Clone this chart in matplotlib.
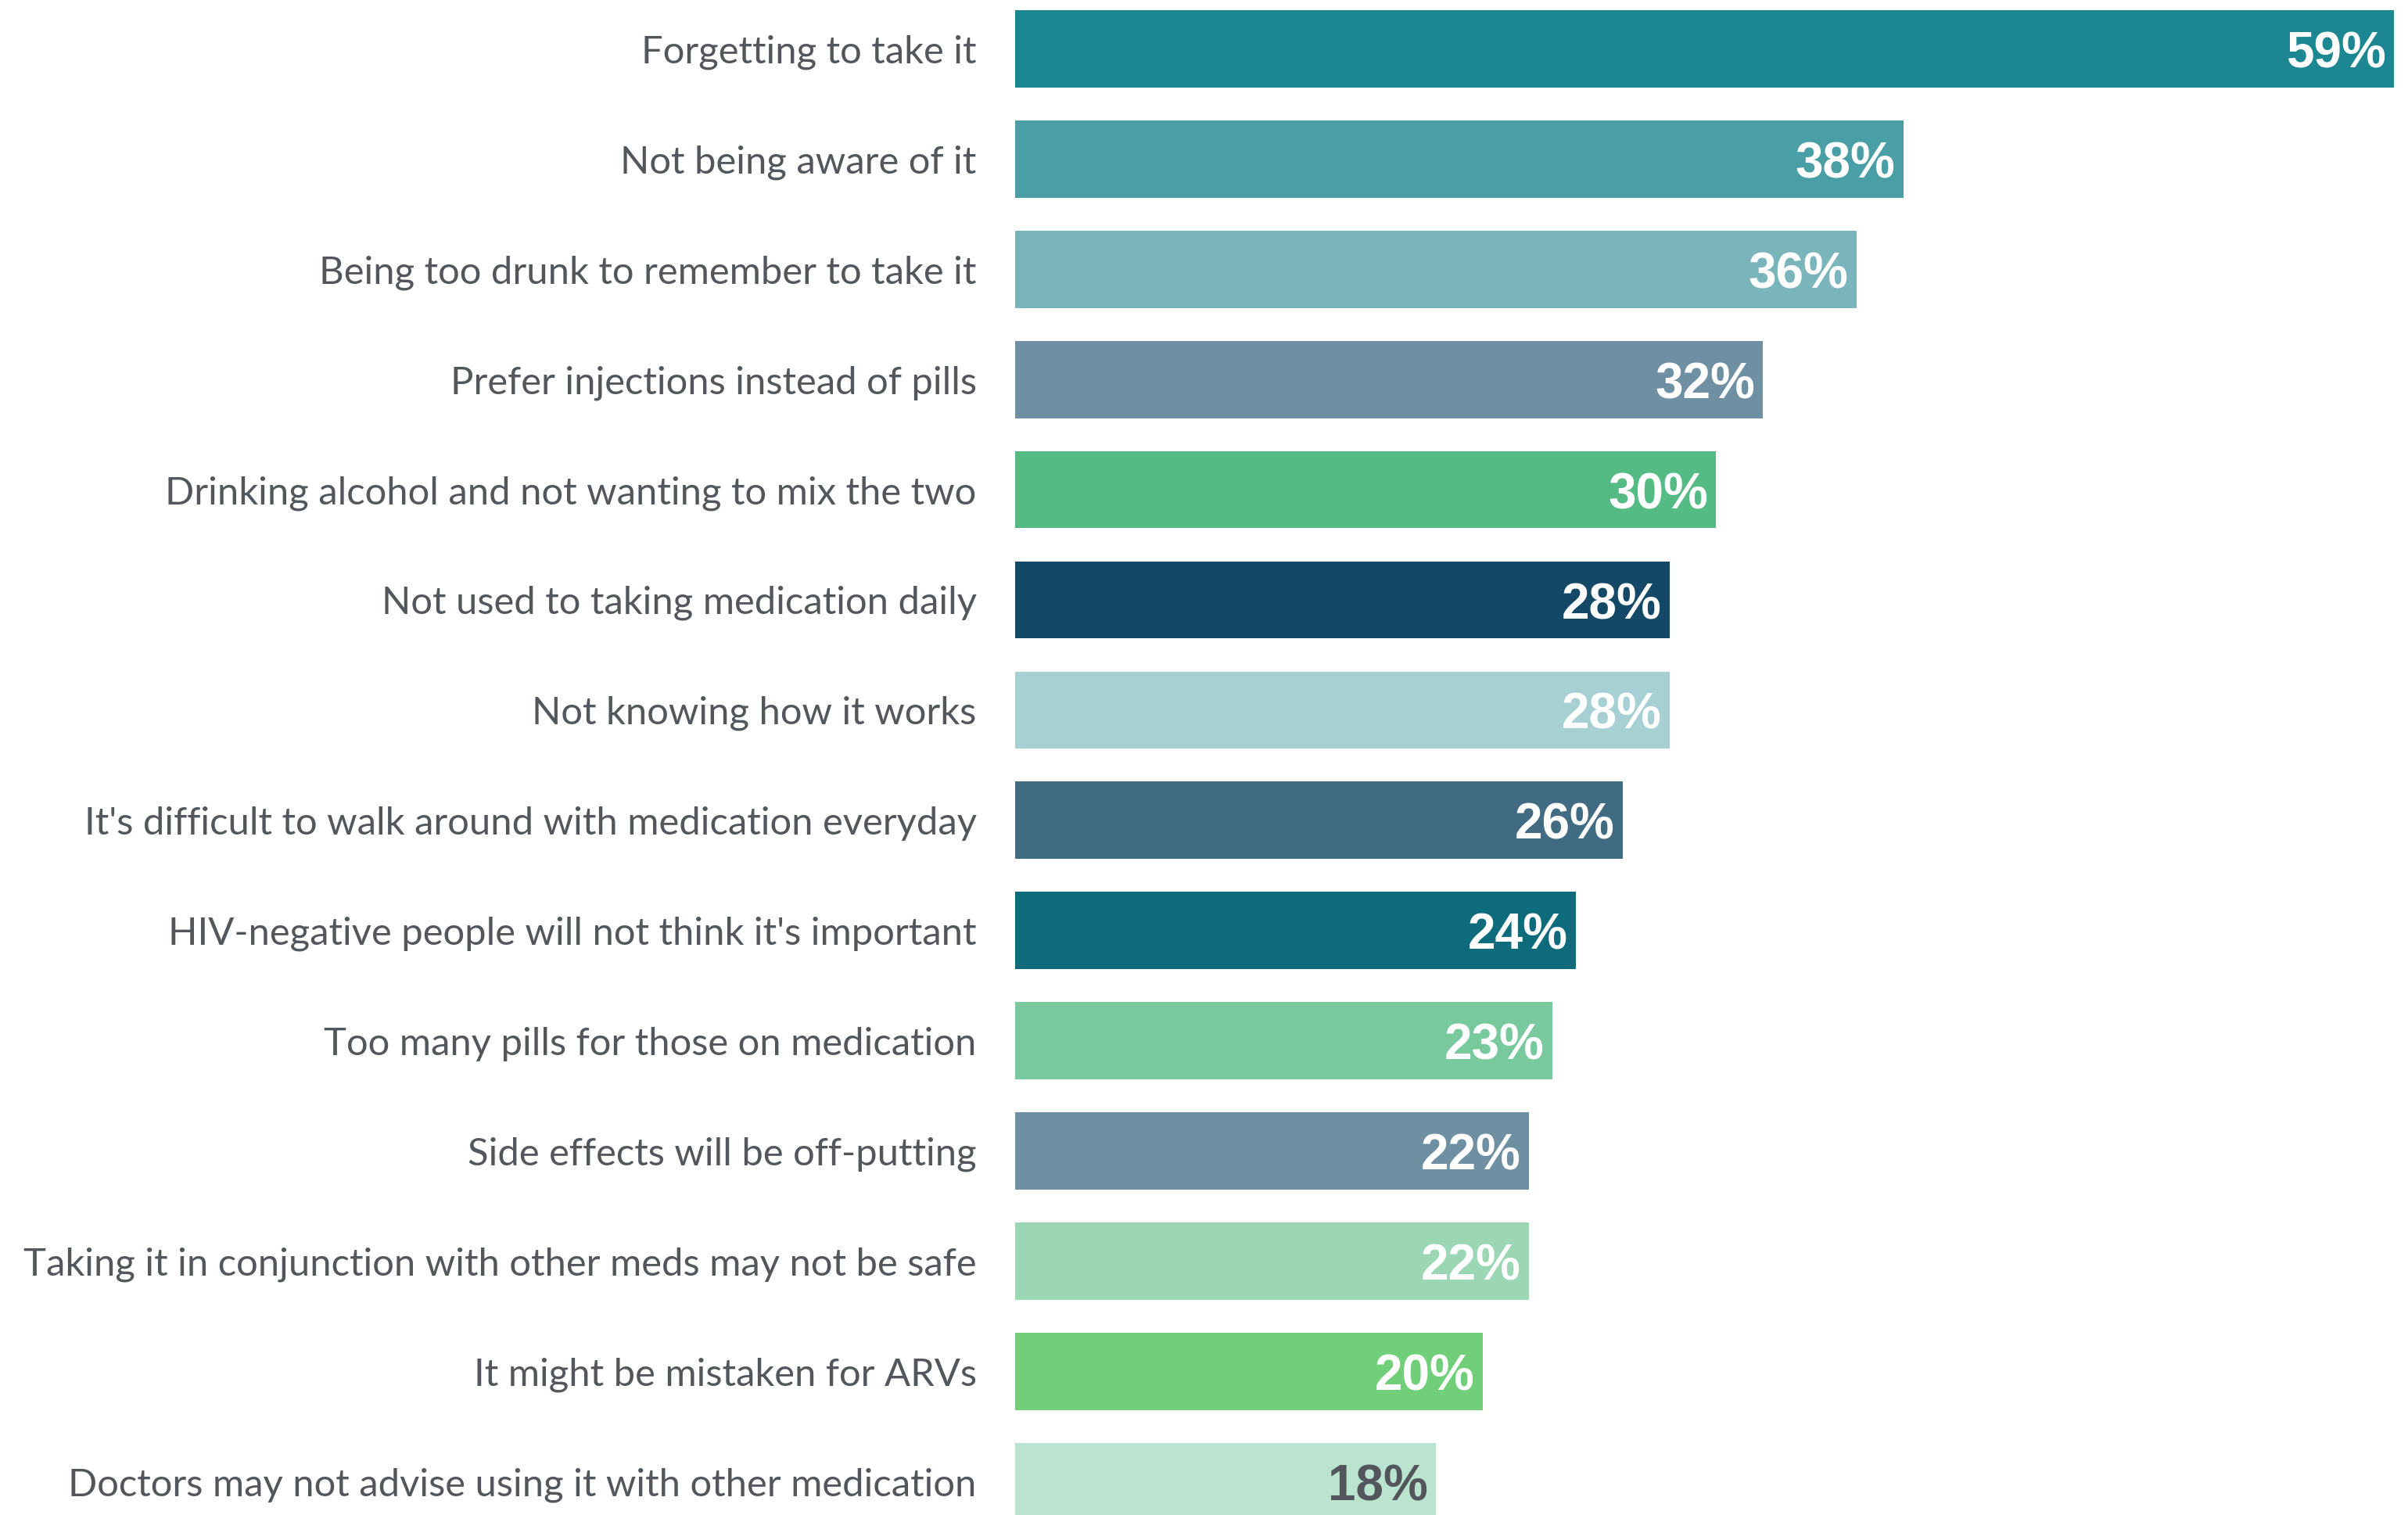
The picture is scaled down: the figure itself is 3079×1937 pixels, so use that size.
import numpy as np
import matplotlib
matplotlib.use("Agg")
import matplotlib.pyplot as plt

# reasons for not taking PrEP, share of respondents (%)
reasons = [
    "Forgetting to take it",
    "Not being aware of it",
    "Being too drunk to remember to take it",
    "Prefer injections instead of pills",
    "Drinking alcohol and not wanting to mix the two",
    "Not used to taking medication daily",
    "Not knowing how it works",
    "It's difficult to walk around with medication everyday",
    "HIV-negative people will not think it's important",
    "Too many pills for those on medication",
    "Side effects will be off-putting",
    "Taking it in conjunction with other meds may not be safe",
    "It might be mistaken for ARVs",
    "Doctors may not advise using it with other medication",
]
pct = [59, 38, 36, 32, 30, 28, 28, 26, 24, 23, 22, 22, 20, 18]

bar_colors = ["#1c8790", "#4a9fa6", "#7ab5bc", "#6f90a3", "#55bb84", "#134866",
              "#a7d0d4", "#416a83", "#0e6b7b", "#78c99d", "#6f90a3", "#9bd6b5",
              "#72cf79", "#bae4cf"]
value_colors = ["white"] * 13 + ["#53575c"]

W, H = 3079, 1937
fig = plt.figure(figsize=(W / 100, H / 100), dpi=100)
ax = fig.add_axes([1298 / W, 0, 1 - 1298 / W, 1])

y = np.arange(len(reasons))
ax.barh(y, pct, height=0.70, color=bar_colors)

ax.set_xlim(0, 59.6)
ax.set_ylim(13.304, -0.4436)
ax.axis("off")

label_font = "Lato"
for yi, name, v, c in zip(y, reasons, pct, value_colors):
    ax.text(-1.65, yi + 0.03, name, ha="right", va="center", fontsize=35.3,
            family=label_font, color="#53575c")
    ax.text(v - 0.35, yi + 0.05, f"{v}%", ha="right", va="center", fontsize=46,
            family="Liberation Sans", weight="bold", color=c)

fig.savefig("out.png", dpi=100, facecolor="white")
